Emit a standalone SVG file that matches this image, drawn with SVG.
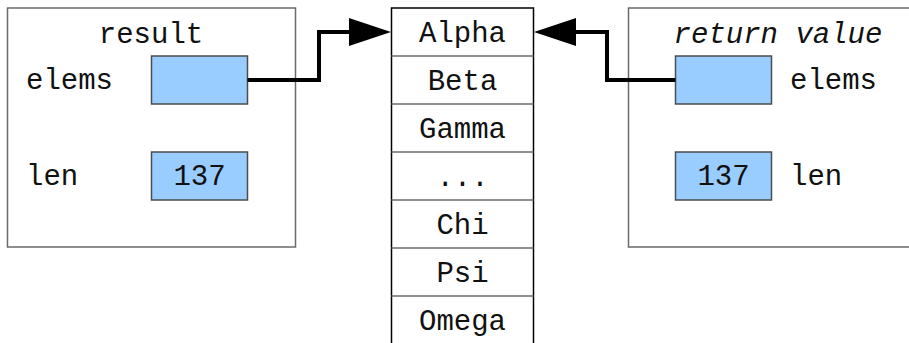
<svg xmlns="http://www.w3.org/2000/svg" width="909" height="343" viewBox="0 0 909 343">
<defs>
<style>
.box{fill:#fff;stroke:#6a6a6a;stroke-width:1.5}
.cell{fill:#99ccff;stroke:#4d4d4d;stroke-width:1.5}
.col{fill:#fff;stroke:#000;stroke-width:1.5}
.sep{stroke:#6a6a6a;stroke-width:1.5}
text{font-family:"Liberation Mono","Courier New",monospace;font-size:29px;fill:#111}
.c{text-anchor:middle}
.i{font-style:italic}
.conn{fill:none;stroke:#000;stroke-width:4}
</style>
<marker id="arr" markerUnits="userSpaceOnUse" markerWidth="44" markerHeight="30" refX="0" refY="14" orient="auto" viewBox="0 0 44 28">
<path d="M0,0 L42,14 L0,28 z" fill="#000"/>
</marker>
</defs>
<g id="result">
<rect class="box" x="7.5" y="8" width="288" height="239"/>
<text class="c" x="151" y="43">result</text>
<text x="26" y="89">elems</text>
<rect class="cell" x="151.5" y="56" width="96" height="48"/>
<text x="26" y="185">len</text>
<rect class="cell" x="151.5" y="152" width="96" height="48"/>
<text class="c" x="199.5" y="185">137</text>
</g>
<g id="array">
<rect class="col" x="391.5" y="8" width="142" height="345"/>
<line class="sep" x1="391.5" y1="56" x2="533.5" y2="56"/>
<line class="sep" x1="391.5" y1="104" x2="533.5" y2="104"/>
<line class="sep" x1="391.5" y1="152" x2="533.5" y2="152"/>
<line class="sep" x1="391.5" y1="200" x2="533.5" y2="200"/>
<line class="sep" x1="391.5" y1="248" x2="533.5" y2="248"/>
<line class="sep" x1="391.5" y1="296" x2="533.5" y2="296"/>
<text class="c" x="462.5" y="42">Alpha</text>
<text class="c" x="462.5" y="90">Beta</text>
<text class="c" x="462.5" y="138">Gamma</text>
<text class="c" x="462.5" y="186">...</text>
<text class="c" x="462.5" y="234">Chi</text>
<text class="c" x="462.5" y="282">Psi</text>
<text class="c" x="462.5" y="330">Omega</text>
</g>
<g id="returnvalue">
<rect class="box" x="628.5" y="8" width="299" height="239"/>
<text class="c i" x="778" y="43">return value</text>
<rect class="cell" x="675.5" y="56" width="96" height="48"/>
<text x="790" y="89">elems</text>
<rect class="cell" x="675.5" y="152" width="96" height="48"/>
<text class="c" x="723.5" y="185">137</text>
<text x="790" y="185">len</text>
</g>
<g id="connectors">
<path class="conn" d="M247.5,80 H319 V32 H349" marker-end="url(#arr)"/>
<path class="conn" d="M675.5,80 H607 V32 H576" marker-end="url(#arr)"/>
</g>
</svg>
